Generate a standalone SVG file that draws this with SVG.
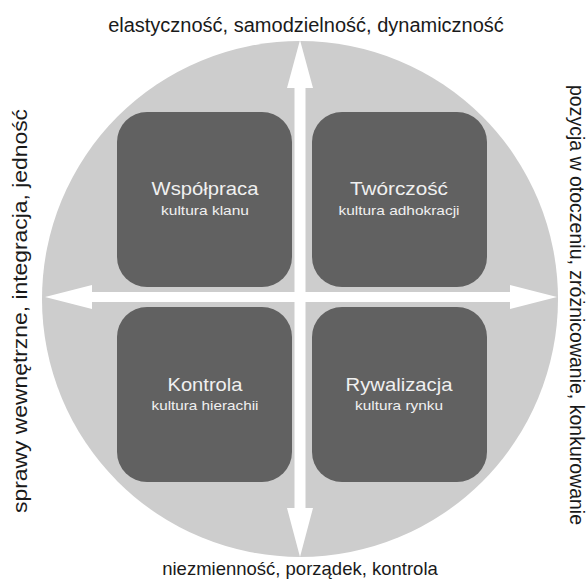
<svg xmlns="http://www.w3.org/2000/svg" width="588" height="581" viewBox="0 0 588 581">
<style>
.axis{font-family:"Liberation Sans",Arial,sans-serif;font-size:18.5px;fill:#1a1a1a;text-anchor:middle}
.box{fill:#616161}
.t{font-family:"Liberation Sans",Arial,sans-serif;font-size:19px;fill:#f0f0f0;text-anchor:middle}
.s{font-family:"Liberation Sans",Arial,sans-serif;font-size:13px;fill:#f0f0f0;text-anchor:middle}
.arrow{fill:#ffffff}
</style>
<rect width="588" height="581" fill="#ffffff"/>
<circle cx="300" cy="299" r="258" fill="#cdcdcd"/>
<g id="wspolpraca">
<rect class="box" x="117" y="112" width="175" height="175" rx="30"/>
<text class="t" x="205" y="195" textLength="107" lengthAdjust="spacingAndGlyphs">Współpraca</text>
<text class="s" x="205" y="215" textLength="88" lengthAdjust="spacingAndGlyphs">kultura klanu</text>
</g>
<g id="tworczosc">
<rect class="box" x="312" y="112" width="175" height="175" rx="30"/>
<text class="t" x="399" y="195" textLength="98" lengthAdjust="spacingAndGlyphs">Twórczość</text>
<text class="s" x="399" y="215" textLength="121" lengthAdjust="spacingAndGlyphs">kultura adhokracji</text>
</g>
<g id="kontrola">
<rect class="box" x="117" y="307" width="175" height="175" rx="30"/>
<text class="t" x="205" y="391" textLength="75" lengthAdjust="spacingAndGlyphs">Kontrola</text>
<text class="s" x="205" y="410" textLength="107" lengthAdjust="spacingAndGlyphs">kultura hierachii</text>
</g>
<g id="rywalizacja">
<rect class="box" x="312" y="307" width="175" height="175" rx="30"/>
<text class="t" x="399" y="391" textLength="107" lengthAdjust="spacingAndGlyphs">Rywalizacja</text>
<text class="s" x="399" y="410" textLength="88" lengthAdjust="spacingAndGlyphs">kultura rynku</text>
</g>
<g id="connectors">
<polygon class="arrow" points="300,40 313,88 305.5,88 305.5,508 313,508 300,557 287,508 294.5,508 294.5,88 287,88"/>
<polygon class="arrow" points="45,297 92,285 92,292 510,292 510,285 557,297 510,309 510,302 92,302 92,309"/>
</g>
<g id="labels">
<text class="axis" style="font-size:20px" x="306" y="32">elastyczność, samodzielność, dynamiczność</text>
<text class="axis" x="300" y="575">niezmienność, porządek, kontrola</text>
<text class="axis" style="font-size:21px" transform="translate(27,311) rotate(-90)" textLength="404" lengthAdjust="spacingAndGlyphs">sprawy wewnętrzne, integracja, jedność</text>
<text class="axis" style="font-size:19.5px" transform="translate(570,305) rotate(90)">pozycja w otoczeniu, zróżnicowanie, konkurowanie</text>
</g>
</svg>
